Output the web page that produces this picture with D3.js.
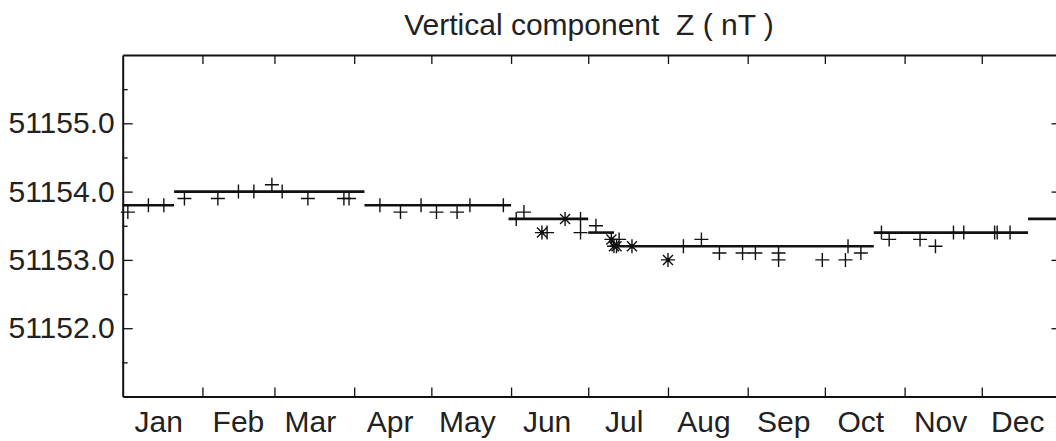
<!DOCTYPE html>
<html>
<head>
<meta charset="utf-8">
<script src="https://cdn.jsdelivr.net/npm/d3@7"></script>
<style>
  html, body { margin: 0; padding: 0; background: #fff; }
  svg { display: block; font-family: "Liberation Sans", Arial, Helvetica, sans-serif; }
</style>
</head>
<body>
<svg id="chart" width="1056" height="441"></svg>
<script>
// month labels along the bottom
const months = ["Jan", "Feb", "Mar", "Apr", "May", "Jun", "Jul", "Aug", "Sep", "Oct", "Nov", "Dec"];

// y axis ticks (nT)
const yMajor = [51152, 51153, 51154, 51155];
const yMinor = [51151.5, 51152.5, 51153.5, 51154.5, 51155.5];

// single observations, "+" symbol
const plusDates = [
  "01-03", "01-11", "01-17", "01-25", "02-07", "02-15", "02-21", "02-28", "03-04", "03-14",
  "03-28", "03-30", "04-11", "04-19", "04-27", "05-03", "05-11", "05-16", "05-29", "06-03",
  "06-06", "06-15", "06-28", "06-28", "07-04", "07-13", "08-07", "08-14", "08-21", "08-30",
  "09-04", "09-13", "09-13", "09-30", "10-09", "10-10", "10-15", "10-23", "10-26", "11-07",
  "11-13", "11-20", "11-24", "12-06", "12-07", "12-12"
];
const plusValues = [
  51153.7, 51153.8, 51153.8, 51153.9, 51153.9, 51154.0, 51154.0, 51154.1, 51154.0, 51153.9,
  51153.9, 51153.9, 51153.8, 51153.7, 51153.8, 51153.7, 51153.7, 51153.8, 51153.8, 51153.6,
  51153.7, 51153.4, 51153.6, 51153.4, 51153.5, 51153.3, 51153.2, 51153.3, 51153.1, 51153.1,
  51153.1, 51153.1, 51153.0, 51153.0, 51153.0, 51153.2, 51153.1, 51153.4, 51153.3, 51153.3,
  51153.2, 51153.4, 51153.4, 51153.4, 51153.4, 51153.4
];

// observations drawn with "*" symbol
const starDates = ["06-13", "06-22", "07-10", "07-11", "07-12", "07-18", "08-01"];
const starValues = [51153.4, 51153.6, 51153.3, 51153.2, 51153.2, 51153.2, 51153.0];

// baseline segments (start, end, value)
const segStarts = ["01-01", "01-21", "04-05", "05-31", "07-01", "07-11", "10-20", "12-19"];
const segEnds   = ["01-21", "04-05", "06-01", "07-01", "07-11", "10-20", "12-19", "12-31T23:59"];
const segValues = [51153.8, 51154.0, 51153.8, 51153.6, 51153.4, 51153.2, 51153.4, 51153.6];

const YEAR = 2001;
const toDate = s => new Date(`${YEAR}-${s}${s.includes("T") ? "" : "T00:00"}Z`);

const svg = d3.select("#chart");
const mLeft = 122.7, mRight = 1061.5, mTop = 55, mBottom = 396.5;

const x = d3.scaleUtc()
  .domain([new Date(Date.UTC(YEAR, 0, 1)), new Date(Date.UTC(YEAR + 1, 0, 1))])
  .range([mLeft, mRight]);
const y = d3.scaleLinear().domain([51151, 51156]).range([mBottom, mTop]);

const monthStarts = d3.range(12).map(m => new Date(Date.UTC(YEAR, m, 1)));
const ink = "#111";
const textInk = "#222";

// title
svg.append("text")
  .attr("x", 589).attr("y", 35)
  .attr("text-anchor", "middle")
  .attr("font-size", 30)
  .attr("fill", textInk)
  .attr("xml:space", "preserve")
  .text("Vertical component  Z ( nT )");

// axes
const styleAxis = g => {
  g.select(".domain").attr("stroke", ink).attr("stroke-width", 2);
  g.selectAll(".tick line").attr("stroke", ink).attr("stroke-width", 1.3);
};

svg.append("g")
  .attr("transform", `translate(0,${mBottom})`)
  .call(d3.axisBottom(x).tickValues(monthStarts.slice(1)).tickFormat("").tickSizeInner(-9).tickSizeOuter(0))
  .call(styleAxis);

svg.append("g")
  .attr("transform", `translate(0,${mTop})`)
  .call(d3.axisTop(x).tickValues(monthStarts.slice(1)).tickFormat("").tickSizeInner(-9).tickSizeOuter(0))
  .call(styleAxis);

const yAxisL = svg.append("g")
  .attr("transform", `translate(${mLeft},0)`)
  .call(d3.axisLeft(y).tickValues(yMajor).tickFormat(d3.format(".1f")).tickSizeInner(-10).tickSizeOuter(0).tickPadding(8))
  .call(styleAxis);
yAxisL.selectAll("text")
  .attr("font-size", 30)
  .attr("fill", textInk)
  .attr("font-family", "Liberation Sans, Arial, sans-serif");

svg.append("g")
  .attr("transform", `translate(${mLeft},0)`)
  .call(d3.axisLeft(y).tickValues(yMinor).tickFormat("").tickSizeInner(-5).tickSizeOuter(0))
  .call(styleAxis)
  .select(".domain").remove();

svg.append("g")
  .attr("transform", `translate(${mRight},0)`)
  .call(d3.axisRight(y).tickValues(yMajor).tickFormat("").tickSizeInner(-10).tickSizeOuter(0))
  .call(styleAxis);
svg.append("g")
  .attr("transform", `translate(${mRight},0)`)
  .call(d3.axisRight(y).tickValues(yMinor).tickFormat("").tickSizeInner(-5).tickSizeOuter(0))
  .call(styleAxis);

// month labels, centred near the middle of each month
svg.append("g")
  .selectAll("text")
  .data(months)
  .join("text")
  .attr("x", (d, i) => x(new Date(Date.UTC(YEAR, i, 15))))
  .attr("y", 432)
  .attr("text-anchor", "middle")
  .attr("font-size", 30)
  .attr("fill", textInk)
  .text(d => d);

// baseline segments
svg.append("g")
  .selectAll("line")
  .data(segValues)
  .join("line")
  .attr("x1", (d, i) => x(toDate(segStarts[i])))
  .attr("x2", (d, i) => x(toDate(segEnds[i])))
  .attr("y1", d => y(d))
  .attr("y2", d => y(d))
  .attr("stroke", ink)
  .attr("stroke-width", 2.6);

// "+" markers
const ps = 7;
svg.append("g")
  .selectAll("path")
  .data(plusValues)
  .join("path")
  .attr("transform", (d, i) => `translate(${x(toDate(plusDates[i]))},${y(d)})`)
  .attr("d", `M${-ps},0H${ps}M0,${-ps}V${ps}`)
  .attr("stroke", ink)
  .attr("stroke-width", 1.4)
  .attr("fill", "none");

// "*" markers
const ss = 7, sd = 5;
const stars = svg.append("g")
  .selectAll("g")
  .data(starValues)
  .join("g")
  .attr("transform", (d, i) => `translate(${x(toDate(starDates[i]))},${y(d)})`);
stars.append("path")
  .attr("d", `M${-ss},0H${ss}M0,${-ss}V${ss}M${-sd},${-sd}L${sd},${sd}M${-sd},${sd}L${sd},${-sd}`)
  .attr("stroke", ink)
  .attr("stroke-width", 1.4)
  .attr("fill", "none");
stars.append("rect")
  .attr("x", -2).attr("y", -2).attr("width", 4).attr("height", 4)
  .attr("fill", ink);
</script>
</body>
</html>
